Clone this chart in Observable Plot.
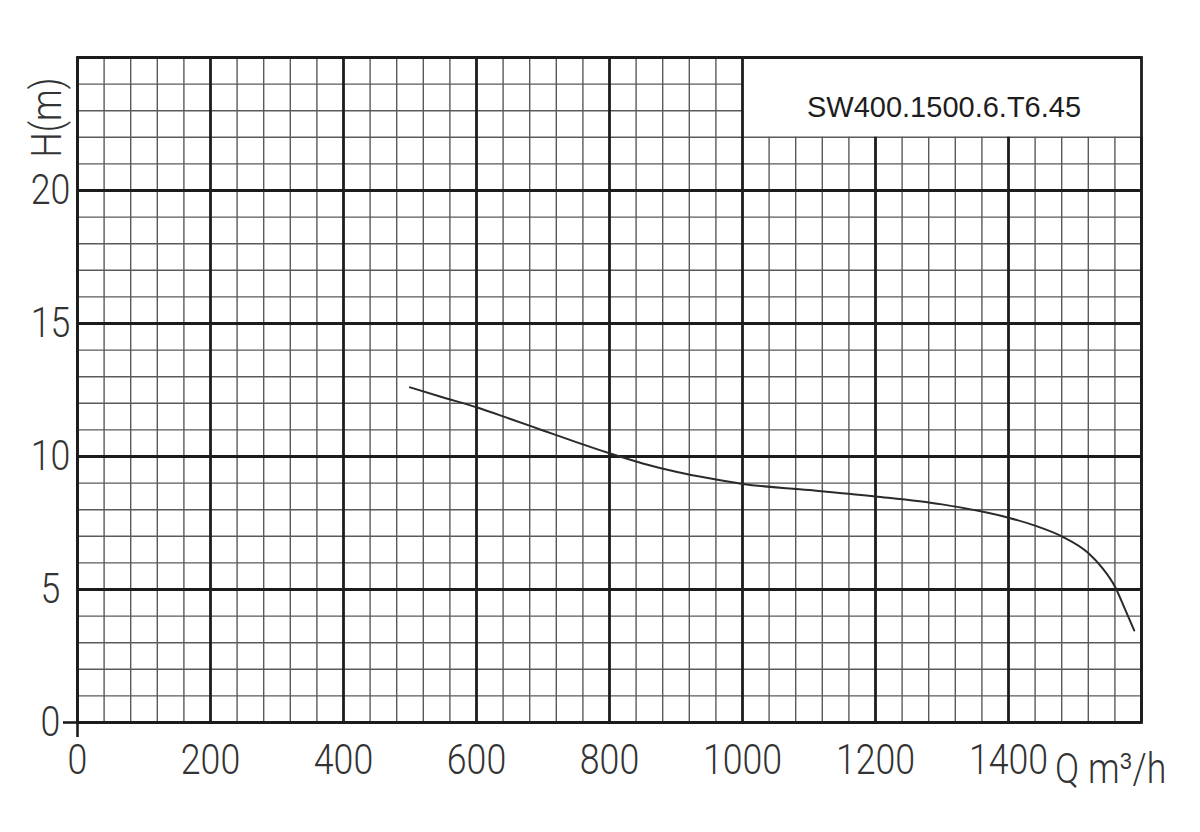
<!DOCTYPE html>
<html>
<head>
<meta charset="utf-8">
<script src="https://cdn.jsdelivr.net/npm/d3@7"></script>
<script src="https://cdn.jsdelivr.net/npm/@observablehq/plot@0.6"></script>
<style>
  html, body { margin: 0; padding: 0; background: #ffffff; }
  #chart svg { display: block; }
</style>
</head>
<body>
<div id="chart"></div>
<script>
// ---- data ----
const flowQ = [500, 550, 600, 650, 700, 750, 800, 850, 900, 950, 1000, 1100, 1200, 1300, 1400, 1440, 1480, 1520, 1540, 1560, 1575, 1589];
const headH = [12.6, 12.22, 11.85, 11.42, 10.98, 10.54, 10.12, 9.74, 9.43, 9.18, 8.97, 8.74, 8.5, 8.2, 7.7, 7.4, 7.0, 6.37, 5.84, 5.11, 4.27, 3.46];
const xTickLabels = [0, 200, 400, 600, 800, 1000, 1200, 1400];
const yTickLabels = [0, 5, 10, 15, 20];
const modelName = "SW400.1500.6.T6.45";
const xLabel = "Q m³/h";
const yLabel = "H(m)";

const xMax = 1600, yMax = 25;
const boxX = 1000, boxY = 22;
const curve = flowQ.map((q, i) => ({q, h: headH[i]}));
const minorX = d3.range(0, xMax + 1, 40).filter(v => v % 200 !== 0);
const minorY = d3.range(0, yMax + 1, 1).filter(v => v % 5 !== 0);
const majorX = d3.range(0, xMax + 1, 200);
const majorY = d3.range(0, yMax + 1, 5);

const tickFont = "Roboto";
const labelFill = "#333333";
const minorColor = "#5a5a5a", majorColor = "#1c1c1c";

const plot = Plot.plot({
  width: 1200,
  height: 832,
  marginLeft: 77,
  marginRight: 59,
  marginTop: 57,
  marginBottom: 110,
  x: {domain: [0, xMax], axis: null},
  y: {domain: [0, yMax], axis: null},
  marks: [
    // minor grid
    Plot.ruleX(minorX, {x: d => d, y1: 0, y2: d => d > boxX ? boxY : yMax, stroke: minorColor, strokeWidth: 1.4}),
    Plot.ruleY(minorY, {y: d => d, x1: 0, x2: d => d > boxY ? boxX : xMax, stroke: minorColor, strokeWidth: 1.4}),
    // major grid
    Plot.ruleX(majorX, {x: d => d, y1: 0, y2: d => d > boxX ? boxY : yMax, stroke: majorColor, strokeWidth: 2.8}),
    Plot.ruleY(majorY, {y: d => d, x1: 0, x2: xMax, stroke: majorColor, strokeWidth: 2.8}),
    // frame
    Plot.frame({stroke: majorColor, strokeWidth: 2.8}),
    // ticks at origin
    Plot.axisY([0], {tickSize: 14, tickFormat: () => "", label: null, stroke: majorColor, strokeWidth: 2.6}),
    Plot.axisX([0], {tickSize: 15, tickFormat: () => "", label: null, stroke: majorColor, strokeWidth: 2.6}),
    // curve
    Plot.line(curve, {x: "q", y: "h", curve: "monotone-x", stroke: "#2a2a2a", strokeWidth: 2}),
    // tick labels
    Plot.text(xTickLabels, {x: d => d, y: 0, text: d => String(d), dy: 38, fontSize: 42, fontFamily: tickFont, fontWeight: 300, fill: labelFill, textAnchor: "middle"}),
    Plot.text(yTickLabels, {x: 0, y: d => d, text: d => String(d), dx: -27, fontSize: 42, fontFamily: tickFont, fontWeight: 300, fill: labelFill, textAnchor: "middle"}),
    // axis labels
    Plot.text([yLabel], {x: -45, y: 22.74, text: d => d, rotate: -90, fontSize: 42, fontFamily: tickFont, fontWeight: 300, fill: labelFill, textAnchor: "middle"}),
    Plot.text([xLabel], {x: 1470, y: -1.75, text: d => d, fontSize: 42, fontFamily: tickFont, fontWeight: 300, fill: labelFill, textAnchor: "start"}),
    // model box title
    Plot.text([modelName], {x: 1303, y: 23.1, text: d => d, fontSize: 29, fontFamily: "Liberation Sans, Arial, sans-serif", fill: "#1e1e1e", textAnchor: "middle"})
  ]
});

// condense the CAD-style labels horizontally (keep them as real text)
d3.select(plot).selectAll("text").each(function () {
  const el = d3.select(this);
  const fam = el.attr("font-family") || (this.parentNode && d3.select(this.parentNode).attr("font-family"));
  if (fam === tickFont) {
    const t = el.attr("transform") || "";
    el.attr("transform", t + " scale(0.85,1)");
  }
});

document.getElementById("chart").appendChild(plot);
</script>
</body>
</html>
